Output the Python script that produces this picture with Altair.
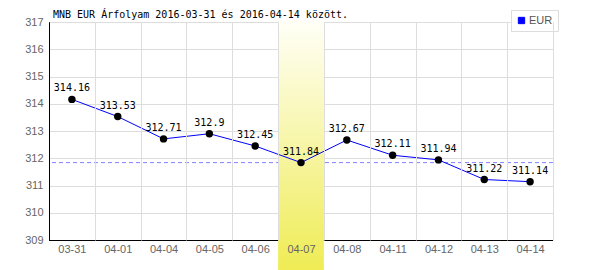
import altair as alt
import pandas as pd

dates = ["03-31", "04-01", "04-04", "04-05", "04-06", "04-07",
         "04-08", "04-11", "04-12", "04-13", "04-14"]
rates = [314.16, 313.53, 312.71, 312.9, 312.45, 311.84,
         312.67, 312.11, 311.94, 311.22, 311.14]
rate_labels = ["314.16", "313.53", "312.71", "312.9", "312.45", "311.84",
               "312.67", "312.11", "311.94", "311.22", "311.14"]
currency = "EUR"
selected_day = "04-07"
reference_rate = 311.84
y_ticks = [309, 310, 311, 312, 313, 314, 315, 316, 317]
title_text = "MNB EUR Árfolyam 2016-03-31 és 2016-04-14 között."

df = pd.DataFrame({"date": dates, "rate": rates, "label": rate_labels,
                   "cur": [currency] * len(dates)})
sel_df = pd.DataFrame({"date": [selected_day]})
ref_df = pd.DataFrame({"v": [reference_rate]})
base_df = pd.DataFrame({"v": [y_ticks[0]]})
title_df = pd.DataFrame({"t": [title_text]})

mono = "DejaVu Sans Mono"
sans = "Liberation Sans"

x_scale = alt.Scale(type="band", domain=dates, paddingInner=0, paddingOuter=0)
y_scale = alt.Scale(domain=[y_ticks[0], y_ticks[-1]], nice=False, zero=False)

x_axis = alt.Axis(title=None, grid=True,
                  gridColor={"condition": {"test": "datum.extra", "value": "#000000"},
                             "value": "#dddddd"},
                  tickBand="extent",
                  ticks=False, domain=False, labelAngle=0, labelColor="#666666",
                  labelFont=sans, labelFontSize=11, labelPadding=3, zindex=1)
y_axis = alt.Axis(title=None, values=y_ticks, grid=True, gridColor="#dddddd",
                  ticks=False, domain=True, domainColor="#000000", domainWidth=1,
                  labelColor="#666666",
                  labelFont=sans, labelFontSize=11, labelPadding=6, zindex=0)

X = alt.X("date:N", scale=x_scale, axis=x_axis, sort=dates)
Y = alt.Y("rate:Q", scale=y_scale, axis=y_axis)

base_line = alt.Chart(base_df).mark_rule(color="#000000", strokeWidth=1, yOffset=0.5).encode(
    y=alt.Y("v:Q", scale=y_scale, axis=y_axis))

ref_line = alt.Chart(ref_df).mark_rule(color="#8080ff", strokeWidth=1, strokeDash=[4, 3]).encode(
    y=alt.Y("v:Q", scale=y_scale, axis=y_axis))

band = alt.Chart(sel_df).mark_rect(
    color=alt.Gradient(gradient="linear", x1=0, x2=0, y1=0, y2=1,
                       stops=[alt.GradientStop(color="#fffff8", offset=0),
                              alt.GradientStop(color="#efec55", offset=1)])
).encode(x=alt.X("date:N", scale=x_scale, axis=x_axis, sort=dates),
         y=alt.value(-2), y2=alt.value(248))

line = alt.Chart(df).mark_line(strokeWidth=1).encode(
    x=X, y=Y,
    color=alt.Color("cur:N", scale=alt.Scale(domain=[currency], range=["#0000ff"]),
                    legend=alt.Legend(title=None, orient="none", legendX=462, legendY=-12,
                                      symbolType="square", symbolSize=40,
                                      symbolFillColor="#0000ff", symbolStrokeColor="#000066",
                                      symbolStrokeWidth=1,
                                      labelFont=sans, labelFontSize=11, labelColor="#555555",
                                      padding=5, labelOffset=2,
                                      strokeColor="#dddddd", fillColor="#ffffff")))

points = alt.Chart(df).mark_circle(size=55, color="#000000", opacity=1).encode(x=X, y=Y)

texts = alt.Chart(df).mark_text(font=mono, fontSize=10, color="#000000",
                                baseline="alphabetic", dy=-8).encode(
    x=X, y=Y, text="label:N")

title = alt.Chart(title_df).mark_text(font=mono, fontSize=10, color="#000000",
                                      align="left", baseline="alphabetic").encode(
    x=alt.value(4), y=alt.value(-4), text="t:N")

chart = alt.layer(base_line, ref_line, band, line, points, texts, title).properties(
    width=504, height=218,
    autosize=alt.AutoSizeParams(type="none"),
    padding={"left": 49, "top": 22, "right": 47, "bottom": 30},
).configure_view(stroke="transparent")

chart.save("out.html", embed_options={"renderer": "svg", "actions": False})
